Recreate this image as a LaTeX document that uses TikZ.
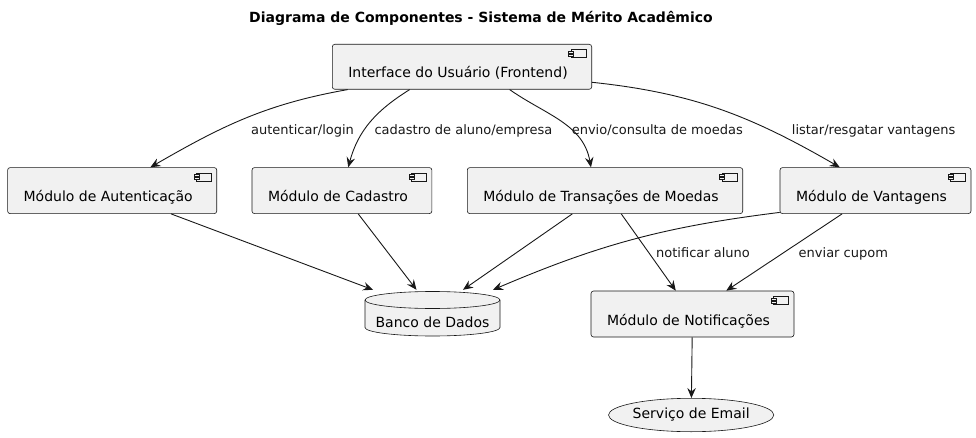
\documentclass[tikz,border=0pt]{standalone}
\usepackage{fontspec}
\setmainfont{DejaVu Sans}
\usetikzlibrary{arrows.meta,shapes.geometric,positioning}

\definecolor{boxfill}{HTML}{F1F1F1}
\definecolor{boxline}{HTML}{181818}

\begin{document}
\begin{tikzpicture}[x=1pt, y=1pt,
    comp/.style={draw=boxline, fill=boxfill, line width=0.6pt, rounded corners=2.5pt, anchor=north west,
        inner xsep=16pt, inner ysep=0pt, text height=34pt, text depth=12pt, font=\fontsize{14}{17}\selectfont,
        execute at end node={\hspace{8pt}},
        path picture={
            \draw[sharp corners, boxline, fill=boxfill, line width=0.5pt]
                ([shift={(-20.7pt,-5.3pt)}]path picture bounding box.north east) rectangle
                ([shift={(-5.3pt,-13.3pt)}]path picture bounding box.north east);
            \draw[sharp corners, boxline, fill=boxfill, line width=0.5pt]
                ([shift={(-23pt,-7pt)}]path picture bounding box.north east) rectangle ++(5pt,-2pt);
            \draw[sharp corners, boxline, fill=boxfill, line width=0.5pt]
                ([shift={(-23pt,-10pt)}]path picture bounding box.north east) rectangle ++(5pt,-2pt);
        }},
    dbase/.style={inner sep=0pt, minimum width=137pt, text height=37pt, text depth=10pt,
        font=\fontsize{14}{17}\selectfont,
        path picture={
            \draw[boxline, fill=boxfill, line width=0.6pt]
                ([shift={(1pt,-10pt)}]path picture bounding box.north west) --
                ([shift={(1pt,9.5pt)}]path picture bounding box.south west)
                arc[start angle=180, end angle=360, x radius=67.5pt, y radius=8.5pt] --
                ([shift={(-1pt,-10pt)}]path picture bounding box.north east)
                arc[start angle=0, end angle=180, x radius=67.5pt, y radius=8.5pt] -- cycle;
            \draw[boxline, line width=0.6pt]
                ([shift={(1pt,-10pt)}]path picture bounding box.north west)
                arc[start angle=180, end angle=360, x radius=67.5pt, y radius=8.5pt];
        }},
    svc/.style={ellipse, draw=boxline, fill=boxfill, line width=0.6pt, inner sep=0pt,
        minimum width=149pt, minimum height=33.4pt, font=\fontsize{14}{17}\selectfont},
    ttl/.style={anchor=base, font=\fontsize{14}{17}\selectfont\bfseries},
    arr/.style={-{Stealth[length=10pt, width=8.5pt, inset=3.5pt]}, line width=0.9pt, boxline},
    lbl/.style={anchor=base west, inner sep=1pt, font=\fontsize{13}{15}\selectfont}
]
\useasboundingbox (0,0) rectangle (976,437);

\node[ttl] (title) at (481,414.7) {Diagrama de Componentes - Sistema de Mérito Acadêmico};

\node[comp, text height=33pt] (ui) at (332,393) {Interface do Usuário (Frontend)};
\node[comp] (auth) at (7.3,269.7) {Módulo de Autenticação};
\node[comp] (cad) at (251.7,269.7) {Módulo de Cadastro};
\node[comp] (moedas) at (467,269.7) {Módulo de Transações de Moedas};
\node[comp] (vant) at (779.7,269.7) {Módulo de Vantagens};
\node[dbase] (db) at (432.5,123.5) {Banco de Dados};
\node[comp] (notif) at (590.7,146.3) {Módulo de Notificações};
\node[svc] (email) at (691.2,22) {Serviço de Email};

% interface -> modulos
\draw[arr] ([xshift=-114.35pt]ui.south) to[out=190,in=30] node[lbl, pos=0.5, xshift=4.4pt, yshift=-16pt] {autenticar/login} ([xshift=38.2pt]auth.north);
\draw[arr] ([xshift=-52.35pt]ui.south) to[out=212,in=75] node[lbl, pos=0.6, xshift=8.4pt, yshift=-4.6pt] {cadastro de aluno/empresa} ([xshift=6.3pt]cad.north);
\draw[arr] ([xshift=47.65pt]ui.south) to[out=-35,in=100] node[lbl, pos=0.6, xshift=0.9pt, yshift=-5.8pt] {envio/consulta de moedas} ([xshift=-14.05pt]moedas.north);
\draw[arr] ([yshift=-15.5pt]ui.east) to[out=-6,in=150] node[lbl, pos=0.7, xshift=24pt, yshift=-5.7pt] {listar/resgatar vantagens} ([xshift=-35.7pt]vant.north);

% modulos -> banco
\draw[arr] ([xshift=58.9pt]auth.south) -- ([xshift=-59.5pt]db.north);
\draw[arr] ([xshift=16.3pt]cad.south) -- ([xshift=-16pt]db.north);
\draw[arr] ([xshift=-32.75pt]moedas.south) -- ([xshift=30.5pt]db.north);
\draw[arr] ([yshift=1.5pt]vant.south west) to[bend right=8] ([xshift=60.5pt]db.north);

% notificacoes
\draw[arr] ([xshift=16.25pt]moedas.south) -- node[lbl, pos=0.5, xshift=6.2pt, yshift=-5.3pt] {notificar aluno} ([xshift=-16.7pt]notif.north);
\draw[arr] ([xshift=-33.4pt]vant.south) -- node[lbl, pos=0.5, xshift=13.1pt, yshift=-4.7pt] {enviar cupom} ([xshift=33.8pt]notif.north);
\draw[arr] (notif) -- (email);
\end{tikzpicture}
\end{document}
